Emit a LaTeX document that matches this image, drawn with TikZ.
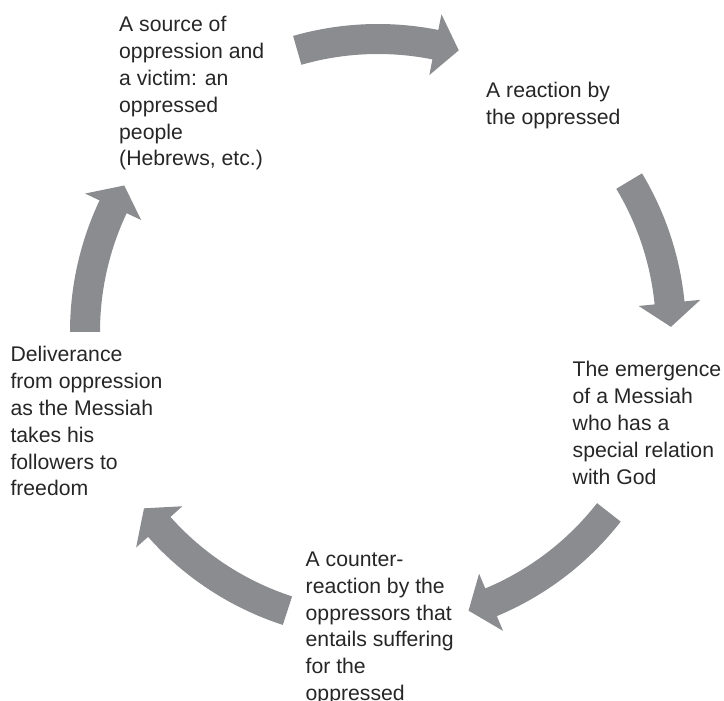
\documentclass[tikz,border=0pt]{standalone}
\usepackage{fontspec}
\setmainfont{Liberation Sans}
\definecolor{arrowgray}{RGB}{139,140,143}
\begin{document}
\begin{tikzpicture}[x=1pt,y=1pt,
  cyclearrow/.style={fill=arrowgray, draw=none},
  steplabel/.style={anchor=base west, inner sep=0pt, align=left,
    font=\fontsize{21.2}{26.8}\selectfont, text=black!85}]
\useasboundingbox (0,0) rectangle (724,701);

% five curved arrows on a circle: tail angle / tip angle
\begin{scope}[shift={(378,369)}]
  \foreach \t/\e in {106/74, 31/1, -38/-72, -108/-143, -180/-210} {
    \pgfmathsetmacro\s{\e+4.7}
    \fill[cyclearrow]
      (\t:308) arc[start angle=\t, end angle=\s, radius=308]
      -- (\s:324) -- (\e:293) -- (\s:262) -- (\s:278)
      arc[start angle=\s, end angle=\t, radius=278] -- cycle;
  }
\end{scope}

% stages of the cycle (each node is placed by the baseline of its last line)
\node[steplabel] (source) at (119,535) {A source of\\oppression and\\a victim: an\\oppressed\\people\\(Hebrews, etc.)};
\node[steplabel] (reaction) at (486,576.2) {A reaction by\\the oppressed};
\node[steplabel] (messiah) at (572.5,216.8) {The emergence\\of a Messiah\\who has a\\special relation\\with God};
\node[steplabel] (counter) at (305.5,0.5) {A counter-\\reaction by the\\oppressors that\\entails suffering\\for the\\oppressed};
\node[steplabel] (deliver) at (10.3,205) {Deliverance\\from oppression\\as the Messiah\\takes his\\followers to\\freedom};
\end{tikzpicture}
\end{document}
